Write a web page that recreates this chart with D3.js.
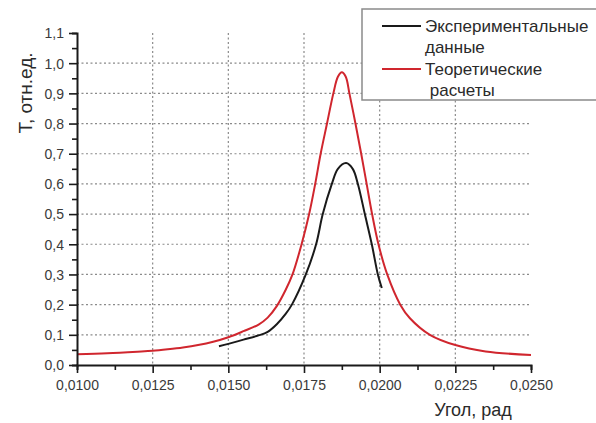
<!DOCTYPE html>
<html>
<head>
<meta charset="utf-8">
<script src="https://cdn.jsdelivr.net/npm/d3@7"></script>
<style>
	body { margin: 0; background: #fff; }
	svg { display: block; }
</style>
</head>
<body>
<svg id="chart" width="596" height="423"></svg>
<script>
// data
var theoryX = [0.0100, 0.0110, 0.0120, 0.0125, 0.0130, 0.0135, 0.0140, 0.0145, 0.0150, 0.0155, 0.0160,
	0.0163, 0.0166, 0.0169, 0.01712, 0.01742, 0.01767, 0.01787, 0.01805, 0.01826, 0.01847, 0.01862,
	0.01875, 0.01888, 0.01900, 0.01920, 0.01939, 0.01957, 0.01975, 0.01996, 0.02025, 0.02068,
	0.02100, 0.02166, 0.02250, 0.02350, 0.02500];
var theoryY = [0.036, 0.039, 0.044, 0.047, 0.052, 0.058, 0.066, 0.077, 0.092, 0.112, 0.134,
	0.157, 0.195, 0.250, 0.300, 0.400, 0.500, 0.600, 0.700, 0.800, 0.900, 0.955,
	0.970, 0.955, 0.900, 0.800, 0.700, 0.600, 0.500, 0.400, 0.300, 0.200,
	0.155, 0.100, 0.066, 0.045, 0.033];

var expX = [0.01469, 0.0150, 0.0155, 0.0160, 0.0163, 0.0166, 0.0169, 0.0171, 0.01756, 0.0179,
	0.01812, 0.01842, 0.01862, 0.01889, 0.01911, 0.01928, 0.01951, 0.01974, 0.01994, 0.02007];
var expY = [0.062, 0.070, 0.084, 0.098, 0.110, 0.135, 0.170, 0.200, 0.300, 0.400,
	0.500, 0.600, 0.650, 0.669, 0.650, 0.600, 0.500, 0.400, 0.300, 0.255];

var xTicks = [0.0100, 0.0125, 0.0150, 0.0175, 0.0200, 0.0225, 0.0250];
var yTicks = [0.0, 0.1, 0.2, 0.3, 0.4, 0.5, 0.6, 0.7, 0.8, 0.9, 1.0, 1.1];
var legendLabels = [["Экспериментальные", "данные"], ["Теоретические", " расчеты"]];
var legendColors = ["#1a1a1a", "#d0262e"];

var svg = d3.select("#chart");
var x = d3.scaleLinear().domain([0.01, 0.025]).range([77, 531]);
var y = d3.scaleLinear().domain([0, 1.1]).range([365, 33]);
var fmt = function(d, n) { return d.toFixed(n).replace(".", ","); };

// grid
var grid = svg.append("g").attr("stroke", "#8a8a8a").attr("stroke-width", 1.2)
	.attr("stroke-dasharray", "2,2.5");
xTicks.slice(1, -1).forEach(function(t) {
	grid.append("line").attr("x1", x(t)).attr("x2", x(t)).attr("y1", y(1.1)).attr("y2", y(0));
});
yTicks.slice(1, -1).forEach(function(t) {
	grid.append("line").attr("x1", x(0.01)).attr("x2", x(0.025)).attr("y1", y(t)).attr("y2", y(t));
});

// curves
var line = d3.line().curve(d3.curveCatmullRom.alpha(0.5));
svg.append("path")
	.attr("d", line(theoryX.map(function(d, i) { return [x(d), y(theoryY[i])]; })))
	.attr("fill", "none").attr("stroke", legendColors[1]).attr("stroke-width", 2);
svg.append("path")
	.attr("d", line(expX.map(function(d, i) { return [x(d), y(expY[i])]; })))
	.attr("fill", "none").attr("stroke", legendColors[0]).attr("stroke-width", 2);

// axes
var xAxis = svg.append("g").attr("transform", "translate(0," + y(0) + ")")
	.call(d3.axisBottom(x).tickValues(d3.range(0, 13).map(function(i) { return 0.01 + i*0.00125; }))
		.tickSize(5).tickFormat(""));
xAxis.selectAll(".tick line").filter(function(d, i) { return i % 2 == 0; }).attr("y2", 8);
xAxis.selectAll(".tick").filter(function(d, i) { return i % 2 == 0; })
	.append("text").attr("y", 25).attr("fill", "#3a3a3a")
	.text(function(d) { return fmt(d, 4); });

var yAxis = svg.append("g").attr("transform", "translate(" + x(0.01) + ",0)")
	.call(d3.axisLeft(y).tickValues(d3.range(0, 23).map(function(i) { return i*0.05; }))
		.tickSize(5).tickFormat(""));
yAxis.selectAll(".tick line").filter(function(d, i) { return i % 2 == 0; }).attr("x2", -8);
yAxis.selectAll(".tick").filter(function(d, i) { return i % 2 == 0; })
	.append("text").attr("x", -13).attr("dy", "0.35em").attr("fill", "#3a3a3a")
	.text(function(d) { return fmt(d, 1); });

[xAxis, yAxis].forEach(function(a) {
	a.select(".domain").attr("stroke", "#1a1a1a").attr("stroke-width", 2);
	a.selectAll(".tick line").attr("stroke", "#1a1a1a").attr("stroke-width", 1.6);
	a.selectAll("text").attr("font-family", "Liberation Sans, Arial, sans-serif").attr("font-size", 14);
});
xAxis.selectAll("text").attr("text-anchor", "middle");
yAxis.selectAll("text").attr("text-anchor", "end");

// axis titles
svg.append("text")
	.attr("transform", "translate(32,93) rotate(-90)")
	.attr("text-anchor", "middle")
	.attr("font-family", "Liberation Sans, Arial, sans-serif")
	.attr("font-size", 19).attr("fill", "#2a2a2a")
	.text("T, отн.ед.");
svg.append("text")
	.attr("x", 473).attr("y", 416)
	.attr("text-anchor", "middle")
	.attr("font-family", "Liberation Sans, Arial, sans-serif")
	.attr("font-size", 18).attr("fill", "#2a2a2a")
	.text("Угол, рад");

// legend
var legend = svg.append("g");
legend.append("rect")
	.attr("x", 362).attr("y", 9).attr("width", 300).attr("height", 91)
	.attr("fill", "white").attr("stroke", "#8a8a8a").attr("stroke-width", 1.5);
legendLabels.forEach(function(lines, i) {
	var top = 26 + i*43;
	legend.append("line")
		.attr("x1", 382).attr("x2", 421).attr("y1", top).attr("y2", top)
		.attr("stroke", legendColors[i]).attr("stroke-width", 2);
	lines.forEach(function(l, j) {
		legend.append("text")
			.attr("x", 425).attr("y", top + 6 + j*21)
			.attr("font-family", "Liberation Sans, Arial, sans-serif")
			.attr("font-size", 17).attr("fill", "#2a2a2a")
			.attr("xml:space", "preserve")
			.style("white-space", "pre")
			.text(l);
	});
});
</script>
</body>
</html>
